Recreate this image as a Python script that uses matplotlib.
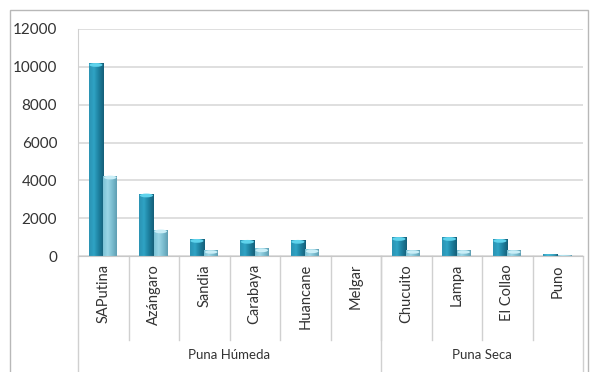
import numpy as np
import matplotlib
matplotlib.use("Agg")
import matplotlib.pyplot as plt
from matplotlib.patches import Rectangle, Ellipse
from matplotlib.colors import LinearSegmentedColormap
import matplotlib.transforms as mtrans

plt.rcParams['font.family'] = ['Lato', 'DejaVu Sans']

# provincias y valores por serie
provincias = ["SAPutina", "Azángaro", "Sandia", "Carabaya", "Huancane", "Melgar",
              "Chucuito", "Lampa", "El Collao", "Puno"]
zonas = ["Puna Húmeda", "Puna Seca"]
n_por_zona = [6, 4]
serie1 = [10200, 3300, 900, 850, 850, 0, 1000, 1000, 900, 80]
serie2 = [4250, 1400, 300, 400, 350, 0, 300, 300, 300, 60]
yticks = [0, 2000, 4000, 6000, 8000, 10000, 12000]

W, H = 590, 372
fig = plt.figure(figsize=(W / 100, H / 100), dpi=100)
ax = fig.add_axes([78 / W, 116 / H, (583 - 78) / W, 227 / H])

cm_oscuro = LinearSegmentedColormap.from_list("osc", ["#2b93b3", "#2fa3c4", "#1d7f9e", "#155f78"])
cm_claro = LinearSegmentedColormap.from_list("cla", ["#7cc3d6", "#9bd6e6", "#7bbdd0", "#5f9fb3"])
grad = np.linspace(0, 1, 64).reshape(1, -1)
texto = "#333333"


def barra(x0, ancho, alto, cmap, tapa):
    if alto <= 0:
        return
    rect = Rectangle((x0, 0), ancho, alto, facecolor="none", edgecolor="none")
    ax.add_patch(rect)
    im = ax.imshow(grad, cmap=cmap, extent=(x0, x0 + ancho, 0, alto),
                   aspect="auto", origin="lower", zorder=2)
    im.set_clip_path(rect)
    cap = min(200, alto * 0.6)
    ax.add_patch(Ellipse((x0 + ancho / 2, alto - cap / 2), ancho * 0.9, cap,
                         facecolor=tapa, edgecolor="none", zorder=3))


ancho = 0.29
for i in range(len(provincias)):
    barra(i - ancho, ancho, serie1[i], cm_oscuro, "#5fd3ec")
    barra(i, ancho * 0.95, serie2[i], cm_claro, "#c9eef7")

ax.set_xlim(-0.5, len(provincias) - 0.5)
ax.set_ylim(0, 12000)
ax.set_yticks(yticks)
ax.set_yticklabels([str(v) for v in yticks], fontsize=11, color=texto)
ax.tick_params(axis="y", length=0, pad=15)
ax.set_xticks([])
ax.grid(axis="y", color="#d9d9d9", linewidth=1.2)
ax.set_axisbelow(True)
for s in ["top", "right"]:
    ax.spines[s].set_visible(False)
ax.spines["left"].set_color("#d0d0d0")
ax.spines["bottom"].set_color("#c8c8c8")

# etiquetas de categorías y grupos tipo tabla
tr = mtrans.blended_transform_factory(ax.transData, ax.transAxes)
px = 1 / 227
for i, p in enumerate(provincias):
    ax.text(i, -8 * px, p, transform=tr, rotation=90, ha="center", va="top",
            fontsize=10.5, color=texto)
for i in range(1, len(provincias)):
    ax.plot([i - 0.5, i - 0.5], [0, -84 * px], transform=tr, color="#d0d0d0",
            lw=1, clip_on=False)
inicio = 0
for z, n in zip(zonas, n_por_zona):
    ax.text(inicio + (n - 1) / 2, -99 * px, z, transform=tr, ha="center", va="center",
            fontsize=9.5, color=texto)
    inicio += n
for xb in [-0.5, 5.5, 9.5]:
    ax.plot([xb, xb], [0, -116 * px], transform=tr, color="#d0d0d0", lw=1, clip_on=False)

# marco exterior
fig.patches.append(Rectangle((10 / W, -0.05), 578 / W, 1 - 10 / H + 0.05,
                             transform=fig.transFigure, fill=False,
                             edgecolor="#b8b8b8", linewidth=1))

fig.savefig("out.png", dpi=100)
